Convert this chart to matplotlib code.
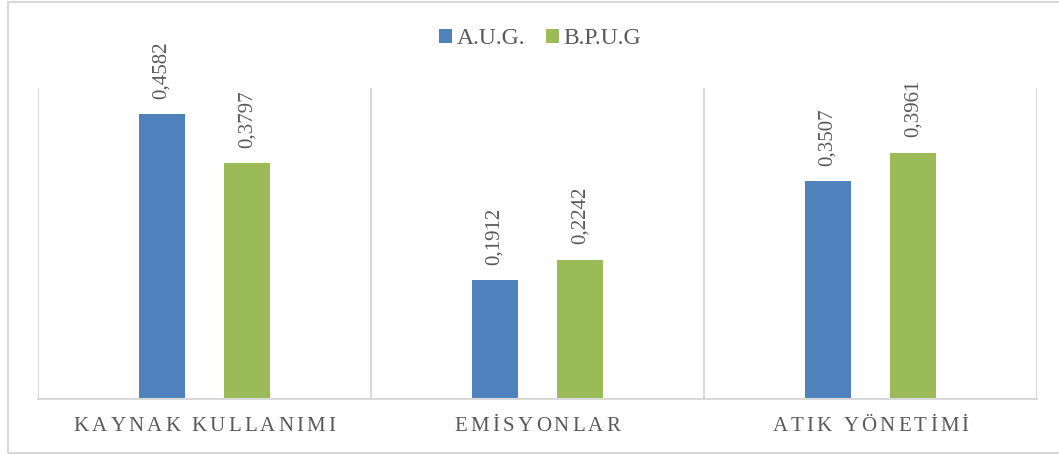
import matplotlib
matplotlib.use("Agg")
import matplotlib.pyplot as plt
from matplotlib.patches import Rectangle
from matplotlib.textpath import TextToPath
from matplotlib.font_manager import FontProperties

categories = ["KAYNAK KULLANIMI", "EMİSYONLAR", "ATIK YÖNETİMİ"]
series_names = ["A.U.G.", "B.P.U.G"]
aug_values = [0.4582, 0.1912, 0.3507]
bpug_values = [0.3797, 0.2242, 0.3961]

colors = ["#4F81BD", "#9BBB59"]
text_color = "#595959"
grid_color = "#D9D9D9"
serif = ["Liberation Serif", "DejaVu Serif"]

plt.rcParams["font.family"] = serif

fig = plt.figure(figsize=(10.59, 4.55), dpi=100)
W, H = 1059, 455

# outer chart frame
fig.patches.append(Rectangle((8 / W, 2 / H), 1.2, 451 / H, transform=fig.transFigure,
                             fill=False, edgecolor=grid_color, linewidth=1.5))

ax = fig.add_axes([38 / W, 56 / H, (1037 - 38) / W, (399 - 88) / H])
ax.set_xlim(-0.5, len(categories) - 0.5)
ax.set_ylim(0, 0.5)
for s in ["top", "left", "right"]:
    ax.spines[s].set_visible(False)
ax.spines["bottom"].set_color(grid_color)
ax.spines["bottom"].set_linewidth(1.5)
ax.set_yticks([])
ax.set_xticks([])

for b in range(len(categories) + 1):
    ax.axvline(b - 0.5, color=grid_color, linewidth=1.5, zorder=0)

width = 0.138
offset = 0.129
x = list(range(len(categories)))
series = [aug_values, bpug_values]
for i, (vals, name) in enumerate(zip(series, series_names)):
    xs = [xi + (-offset if i == 0 else offset) for xi in x]
    ax.bar(xs, vals, width=width, color=colors[i], label=name, zorder=2)
    for xb, v in zip(xs, vals):
        ax.annotate(f"{v:.4f}".replace(".", ","), (xb, v), xytext=(0, 11),
                    textcoords="offset points", rotation=90, ha="center", va="bottom",
                    fontsize=15, color=text_color, annotation_clip=False)

# letter-spaced category labels
prop = FontProperties(family=serif, size=15)
ttp = TextToPath()
spacing = 2.3  # points between letters
for xi, cat in zip(x, categories):
    widths = [ttp.get_text_width_height_descent(ch, prop, ismath=False)[0] for ch in cat]
    total = sum(widths) + spacing * (len(cat) - 1)
    pos = -total / 2
    for ch, w in zip(cat, widths):
        ax.annotate(ch, (xi, 0), xycoords=("data", "axes fraction"),
                    xytext=(pos, -19.5), textcoords="offset points",
                    ha="left", va="center", fontsize=15, color=text_color,
                    annotation_clip=False)
        pos += w + spacing

fig.legend(loc="center", bbox_to_anchor=(540 / W, 1 - 39 / H), ncol=2, frameon=False,
           fontsize=17, handlelength=0.55, handleheight=0.55, handletextpad=0.2,
           columnspacing=0.9, labelcolor=text_color)

fig.savefig("out.png", dpi=100)
